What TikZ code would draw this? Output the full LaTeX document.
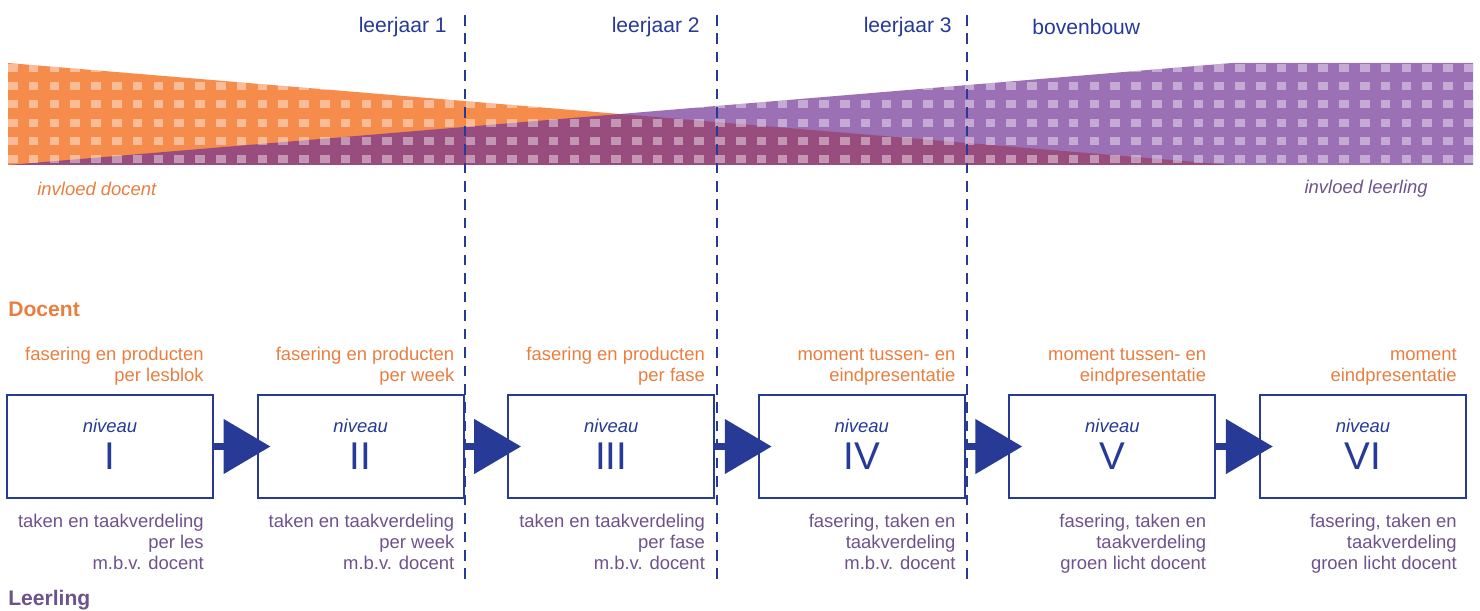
\documentclass[tikz,border=0pt]{standalone}
\usepackage{fontspec}
\setmainfont{Liberation Sans}
\usetikzlibrary{positioning,calc,arrows.meta}
\definecolor{oranje}{RGB}{245,140,76}
\definecolor{paars}{RGB}{114,51,149}
\definecolor{blauw}{RGB}{38,58,150}
\definecolor{oranjetekst}{RGB}{232,126,64}
\definecolor{paarstekst}{RGB}{110,82,140}
\tikzset{>=stealth,
  niveaubox/.style={draw=blauw,fill=white,line width=1.2pt,minimum width=4.12cm,minimum height=2.06cm,inner sep=0pt},
  stap/.style={blauw,line width=4.5pt,-{Triangle[length=0.94cm,width=1.06cm]},shorten >=-0.28cm},
  grens/.style={blauw,line width=1.3pt,dash pattern=on 6pt off 4.5pt},
  klein/.style={font=\fontsize{10.5}{11.9}\selectfont,inner sep=0pt},
  nivtekst/.style={klein,text=blauw,font=\fontsize{10.5}{11.9}\selectfont\itshape},
  romein/.style={text=blauw,inner sep=0pt,font=\fontsize{22}{24}\selectfont},
  boventekst/.style={klein,text=oranjetekst,align=right,anchor=south east},
  ondertekst/.style={klein,text=paarstekst,align=right,anchor=north east},
  jaar/.style={text=blauw,inner sep=0pt,font=\fontsize{12}{14}\selectfont},
  kop/.style={inner sep=0pt,anchor=west,font=\fontsize{12}{14}\selectfont\bfseries}
}

\begin{document}
\begin{tikzpicture}[x=0.02cm,y=-0.02cm]
\useasboundingbox (0,0) rectangle (1480,611);
% invloed banden
\coordinate (LT) at (8,63);
\coordinate (LB) at (8,165);
\coordinate (X) at (620,114);
\coordinate (OE) at (1232,165);
\coordinate (PT) at (1232,63);
\coordinate (RT) at (1473,63);
\coordinate (RB) at (1473,165);
\fill[oranje] (LT) -- (OE) -- (LB) -- cycle;
\fill[paars,fill opacity=.7] (LB) -- (PT) -- (RT) -- (RB) -- cycle;
\begin{scope}
\clip (LT) -- (X) -- (PT) -- (RT) -- (RB) -- (LB) -- cycle;
\foreach \c in {0,...,70}
  \foreach \r in {0,...,5}
    \fill[white,opacity=.42] ({8+20.8*\c},{64+18.2*\r}) rectangle ++(9.5,8);
\end{scope}
\node[klein,anchor=west,text=oranjetekst,font=\fontsize{10.5}{11.9}\selectfont\itshape] (invd) at (37,189) {invloed docent};
\node[klein,anchor=east,text=paarstekst,font=\fontsize{10.5}{11.9}\selectfont\itshape] (invl) at (1428,189) {invloed leerling};
% leerjaren
\foreach \x/\n in {465/1,717/2,967/3}{
  \coordinate (d\n t) at (\x,15);
  \coordinate (d\n b) at (\x,580);
  \draw[grens] (d\n t) -- (d\n b);
}
\node[jaar,anchor=east] (lj1) at (447,27) {leerjaar 1};
\node[jaar,anchor=east] (lj2) at (700,27) {leerjaar 2};
\node[jaar,anchor=east] (lj3) at (952,27) {leerjaar 3};
\node[jaar,anchor=west] (bb) at (1032,27) {bovenbouw};
\node[kop,text=oranjetekst] (docent) at (8,309) {Docent};
\node[kop,text=paarstekst] (leerling) at (8,600) {Leerling};
% niveaus
\foreach \i/\num/\boven/\onder in {
  1/I/{fasering en producten\\per lesblok}/{taken en taakverdeling\\per les\\m.b.v. docent},
  2/II/{fasering en producten\\per week}/{taken en taakverdeling\\per week\\m.b.v. docent},
  3/III/{fasering en producten\\per fase}/{taken en taakverdeling\\per fase\\m.b.v. docent},
  4/IV/{moment tussen- en\\eindpresentatie}/{fasering, taken en\\taakverdeling\\m.b.v. docent},
  5/V/{moment tussen- en\\eindpresentatie}/{fasering, taken en\\taakverdeling\\groen licht docent},
  6/VI/{moment\\eindpresentatie}/{fasering, taken en\\taakverdeling\\groen licht docent}}{
  \node[niveaubox] (n\i) at ({110+250.6*(\i-1)},446.5) {};
  \node[nivtekst] (t\i) at ($(n\i.center)+(0,-20.5)$) {niveau};
  \node[romein] (r\i) at ($(n\i.center)+(0,10)$) {\num};
  \node[boventekst] (b\i) at ($(n\i.north east)+(-10,-8)$) {\boven};
  \node[ondertekst] (o\i) at ($(n\i.south east)+(-10,15)$) {\onder};
}
\foreach \i/\j in {1/2,2/3,3/4,4/5,5/6}
  \draw[stap] (n\i.east) -- (n\j.west);
\end{tikzpicture}
\end{document}
